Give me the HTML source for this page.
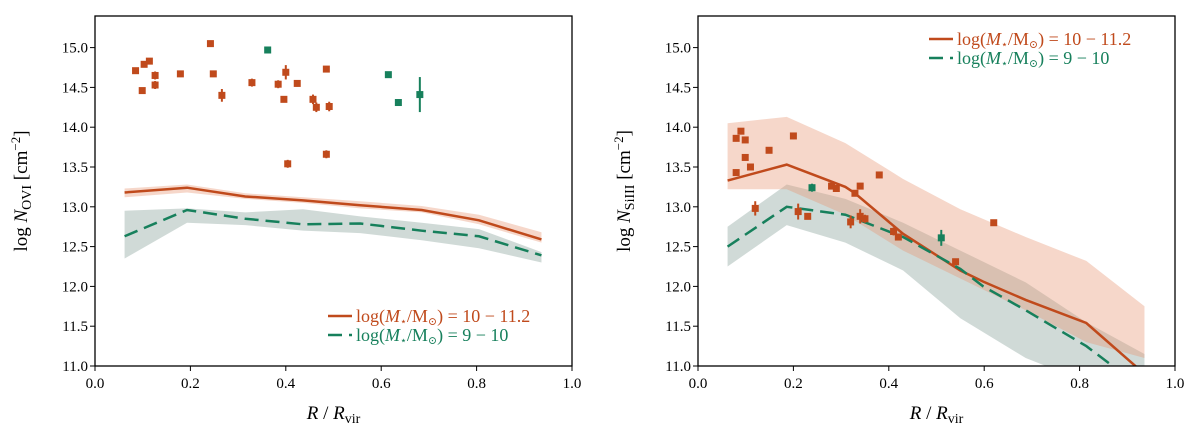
<!DOCTYPE html>
<html><head><meta charset="utf-8">
<style>
body{margin:0;background:#fff;}
svg{display:block;font-family:"Liberation Serif","DejaVu Serif",serif;}
</style></head>
<body>
<svg id="fig" width="1200" height="442" viewBox="0 0 1200 442"></svg>
<script>
// ---- data: left panel (O VI) ----
const xGrid = [0.062,0.193,0.315,0.436,0.556,0.685,0.805,0.936];
const oviHighMed = [13.18,13.24,13.13,13.08,13.02,12.96,12.83,12.59];
const oviHighUp  = [13.23,13.28,13.17,13.12,13.07,13.01,12.90,12.68];
const oviHighLo  = [13.12,13.18,13.10,13.05,12.98,12.93,12.78,12.55];
const oviLowMed  = [12.63,12.96,12.85,12.78,12.79,12.70,12.63,12.39];
const oviLowUp   = [12.95,12.98,12.93,12.97,12.88,12.80,12.72,12.43];
const oviLowLo   = [12.35,12.80,12.77,12.70,12.67,12.58,12.48,12.30];
const oviObsHighX = [0.085,0.099,0.103,0.114,0.126,0.126,0.179,0.242,0.248,0.266,0.329,0.384,0.396,0.400,0.424,0.457,0.464,0.485,0.491,0.404,0.485];
const oviObsHighY = [14.71,14.46,14.79,14.83,14.65,14.53,14.67,15.05,14.67,14.40,14.56,14.54,14.35,14.69,14.55,14.35,14.25,14.73,14.26,13.54,13.66];
const oviObsHighE = [0.03,0.03,0.03,0.03,0.05,0.05,0.04,0.03,0.04,0.08,0.05,0.05,0.03,0.09,0.04,0.06,0.06,0.03,0.06,0.05,0.05];
const oviObsLowX = [0.362,0.615,0.636,0.681];
const oviObsLowY = [14.97,14.66,14.31,14.41];
const oviObsLowE = [0.03,0.03,0.04,0.22];
// ---- data: right panel (Si III) ----
const siHighX   = [0.062,0.186,0.309,0.329,0.430,0.550,0.598,0.687,0.814,0.936];
const siHighMed = [13.33,13.53,13.25,13.17,12.66,12.20,12.06,11.83,11.54,10.90];
const siBandX   = [0.062,0.186,0.309,0.430,0.550,0.687,0.814,0.936];
const siHighUp  = [14.05,14.13,13.80,13.35,12.97,12.62,12.32,11.75];
const siHighLo  = [13.22,13.22,12.90,12.45,12.10,11.70,11.30,11.10];
const siLowX    = [0.062,0.186,0.309,0.430,0.550,0.598,0.687,0.814,0.936];
const siLowMed  = [12.50,13.00,12.90,12.62,12.22,12.00,11.70,11.25,10.70];
const siLowUp   = [12.75,13.28,13.10,12.80,12.45,12.05,11.55,11.15];
const siLowLo   = [12.25,12.77,12.55,12.20,11.60,11.10,10.80,10.50];
const siObsHighX = [0.080,0.090,0.099,0.099,0.080,0.110,0.149,0.120,0.200,0.210,0.230,0.280,0.290,0.320,0.329,0.340,0.340,0.350,0.380,0.410,0.420,0.540,0.620];
const siObsHighY = [13.86,13.95,13.84,13.62,13.43,13.50,13.71,12.98,13.89,12.94,12.88,13.26,13.23,12.81,13.17,13.26,12.88,12.85,13.40,12.69,12.62,12.31,12.80];
const siObsHighE = [0.04,0.03,0.04,0.04,0.04,0.04,0.04,0.09,0.04,0.10,0.04,0.04,0.04,0.08,0.04,0.04,0.09,0.05,0.04,0.05,0.04,0.04,0.04];
const siObsLowX = [0.239,0.510];
const siObsLowY = [13.24,12.61];
const siObsLowE = [0.05,0.10];
const xTicks = [0.0,0.2,0.4,0.6,0.8,1.0];
const xTickLabels = ["0.0","0.2","0.4","0.6","0.8","1.0"];
const yTicks = [11.0,11.5,12.0,12.5,13.0,13.5,14.0,14.5,15.0];
const yTickLabels = ["11.0","11.5","12.0","12.5","13.0","13.5","14.0","14.5","15.0"];

const OR="#c04a1c", GR="#17805c", ORB="rgba(232,150,115,0.38)", GRB="rgba(110,140,130,0.32)";
const NS="http://www.w3.org/2000/svg";
const svg=document.getElementById('fig');
function mk(tag,attrs,parent){const e=document.createElementNS(NS,tag);for(const k in attrs)e.setAttribute(k,attrs[k]);(parent||svg).appendChild(e);return e;}

function panel(cfg){
  const L=cfg.left,R=cfg.right,T=16,B=366;
  const sx=v=>L+(R-L)*v;
  const sy=v=>366-(v-11)*(318.4/4);
  const g=mk('g',{});
  
  
  const cid='clip'+cfg.name;
  const cp=mk('clipPath',{id:cid},g);mk('rect',{x:L,y:T,width:R-L,height:B-T},cp);
  const plot=mk('g',{'clip-path':'url(#'+cid+')'},g);
  function band(xs,up,lo,fill,name){
    let d='M'+xs.map((x,i)=>sx(x)+','+sy(up[i])).join('L');
    for(let i=xs.length-1;i>=0;i--)d+='L'+sx(xs[i])+','+sy(lo[i]);
    const p=mk('path',{d:d+'Z',fill:fill,stroke:'none'},plot);
    
    
  }
  function line(xs,ys,col,dash,name){
    const p=mk('polyline',{points:xs.map((x,i)=>sx(x)+','+sy(ys[i])).join(' '),fill:'none',stroke:col,'stroke-width':2.5,'stroke-dasharray':dash||'none'},plot);
    
    
  }
  function pts(xs,ys,es,col,name){
    xs.forEach((x,i)=>{
      const e=mk('line',{x1:sx(x),x2:sx(x),y1:sy(ys[i]+es[i]),y2:sy(ys[i]-es[i]),stroke:col,'stroke-width':2},plot);
      
      
      const r=mk('rect',{x:sx(x)-3.5,y:sy(ys[i])-3.5,width:7,height:7,fill:col},plot);
      
      
    });
  }
  cfg.draw(band,line,pts);
  const box=mk('rect',{x:L,y:T,width:R-L,height:B-T,fill:'none',stroke:'#000','stroke-width':1.3},g);
  
  
  xTicks.forEach((v,i)=>{
    mk('line',{x1:sx(v),x2:sx(v),y1:B,y2:B+5,stroke:'#000'},g);
    const t=mk('text',{x:sx(v),y:B+22,'text-anchor':'middle','font-size':15},g);
    t.textContent=xTickLabels[i];
    
    
  });
  yTicks.forEach((v,i)=>{
    mk('line',{x1:L-5,x2:L,y1:sy(v),y2:sy(v),stroke:'#000'},g);
    const t=mk('text',{x:L-7,y:sy(v)+5,'text-anchor':'end','font-size':15},g);
    t.textContent=yTickLabels[i];
    
    
  });
  const xl=mk('text',{x:(L+R)/2,y:419,'text-anchor':'middle','font-size':19},g);
  xl.innerHTML='<tspan font-style="italic">R</tspan> / <tspan font-style="italic">R</tspan><tspan font-size="14" dy="4">vir</tspan>';
  
  
  const yl=mk('text',{x:0,y:0,'text-anchor':'middle','font-size':19,transform:'translate('+(L-68)+',191) rotate(-90)'},g);
  yl.innerHTML='log <tspan font-style="italic">N</tspan><tspan font-size="14" dy="4">'+cfg.ion+'</tspan><tspan dy="-4"> [cm</tspan><tspan font-size="13" dy="-7">−2</tspan><tspan dy="7">]</tspan>';
  
  
  const lg=mk('g',{},g);
  
  
  const rows=[[OR,'none','10 − 11.2','legend-entry-high-mass'],[GR,'14,7','  9 − 10','legend-entry-low-mass']];
  rows.forEach((r,i)=>{
    const y=cfg.legY+i*19;
    mk('line',{x1:cfg.legX,x2:cfg.legX+24,y1:y,y2:y,stroke:r[0],'stroke-width':2.5,'stroke-dasharray':r[1]},lg);
    const t=mk('text',{x:cfg.legX+28,y:y+6,'font-size':18,fill:r[0]},lg);
    t.innerHTML='log(<tspan font-style="italic">M</tspan><tspan font-size="11" dy="3">⋆</tspan><tspan dy="-3">/M</tspan><tspan font-size="11" dy="3">⊙</tspan><tspan dy="-3">) = '+r[2]+'</tspan>';
    
    
  });
}

panel({name:'ovi-panel',ion:'OVI',left:95,right:572,legX:328,legY:316,draw:(band,line,pts)=>{
  band(xGrid,oviLowUp,oviLowLo,GRB,'low-mass-band');
  band(xGrid,oviHighUp,oviHighLo,ORB,'high-mass-band');
  line(xGrid,oviHighMed,OR,null,'high-mass-median-line');
  line(xGrid,oviLowMed,GR,'14,7','low-mass-median-line');
  pts(oviObsHighX,oviObsHighY,oviObsHighE,OR,'high-mass-observation');
  pts(oviObsLowX,oviObsLowY,oviObsLowE,GR,'low-mass-observation');
}});
panel({name:'siiii-panel',ion:'SiIII',left:698,right:1175,legX:929,legY:39,draw:(band,line,pts)=>{
  band(siBandX,siLowUp,siLowLo,GRB,'low-mass-band');
  band(siBandX,siHighUp,siHighLo,ORB,'high-mass-band');
  line(siHighX,siHighMed,OR,null,'high-mass-median-line');
  line(siLowX,siLowMed,GR,'14,7','low-mass-median-line');
  pts(siObsHighX,siObsHighY,siObsHighE,OR,'high-mass-observation');
  pts(siObsLowX,siObsLowY,siObsLowE,GR,'low-mass-observation');
}});
</script>
</body></html>
